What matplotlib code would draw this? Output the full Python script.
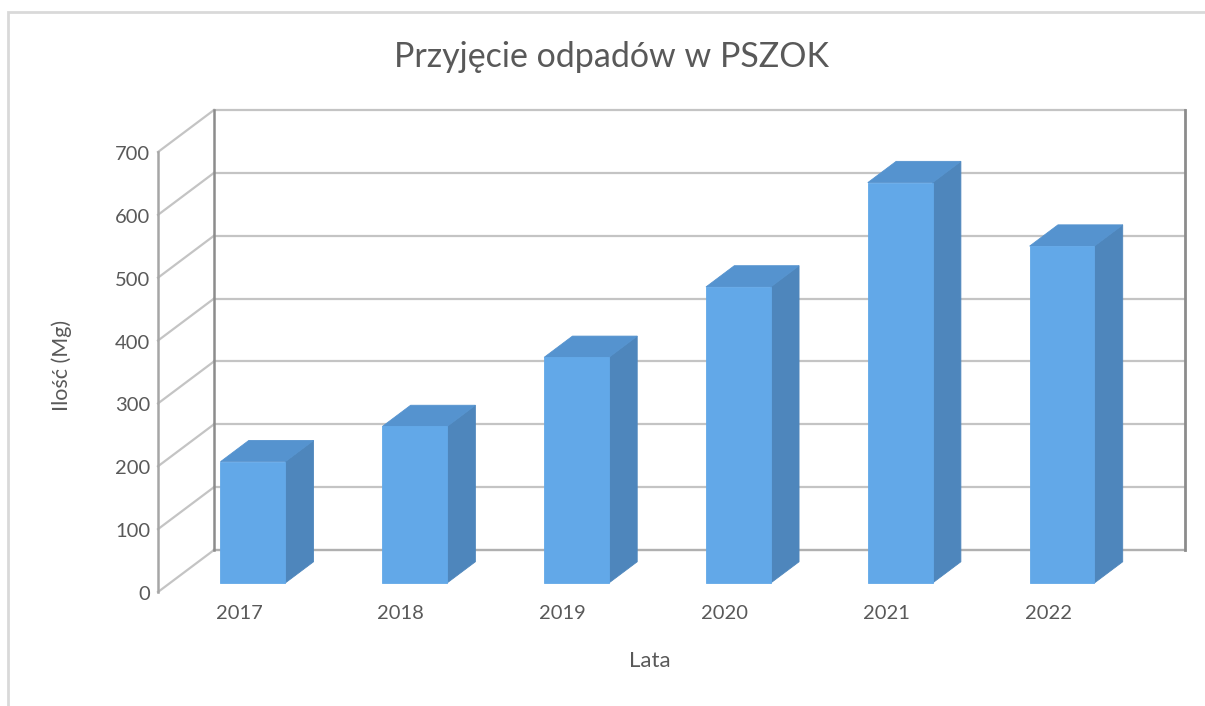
import matplotlib
matplotlib.use("Agg")
import matplotlib.pyplot as plt
from matplotlib.patches import Polygon, Rectangle
from matplotlib.transforms import IdentityTransform

YEARS = ["2017", "2018", "2019", "2020", "2021", "2022"]
AMOUNTS = [193, 249, 359, 471, 637, 536]
Y_TICKS = [0, 100, 200, 300, 400, 500, 600, 700]

TITLE = "Przyjęcie odpadów w PSZOK"
X_LABEL = "Lata"
Y_LABEL = "Ilość (Mg)"

W, H, DPI = 1205, 706, 100
DEPTH = (56, 42)           # oblique shift (px) from back wall to front plane
BAR_FRONT, BAR_BACK = 0.786, 0.28
BAR_WIDTH = 0.40
BAR_NUDGE = 0.012          # small rightward nudge of bars (category units)

C_FRONT = "#62a8e8"
C_TOP = "#5593cf"
C_SIDE = "#4e86bc"
C_GRID = "#c4c4c4"
C_AXIS = "#8c8c8c"
C_TEXT = "#595959"

plt.rcParams["font.family"] = ["Lato", "DejaVu Sans"]

fig = plt.figure(figsize=(W / DPI, H / DPI), dpi=DPI)
ax = fig.add_axes([214 / W, 1 - 550 / H, (1185 - 214) / W, (550 - 110) / H])
ax.set_xlim(-0.5, len(YEARS) - 0.5)
ax.set_ylim(Y_TICKS[0], Y_TICKS[-1])
ax.axis("off")
px = IdentityTransform()


def proj(x, y, f):
    """Data point on the back wall pushed forward by depth fraction f."""
    dx, dy = ax.transData.transform((x, y))
    return (dx - DEPTH[0] * f, dy - DEPTH[1] * f)


def seg(p, q, **kw):
    ax.plot([p[0], q[0]], [p[1], q[1]], transform=px, clip_on=False, **kw)


x_lo, x_hi = -0.5, len(YEARS) - 0.5
top = Y_TICKS[-1]

# ── back wall + left wall ─────────────────────────────────────────────────
for t in Y_TICKS:
    seg(proj(x_lo, t, 0), proj(x_hi, t, 0), color=C_GRID, lw=1.6, zorder=1)
    seg(proj(x_lo, t, 1), proj(x_lo, t, 0), color=C_GRID, lw=1.6, zorder=1)
seg(proj(x_lo, 0, 0), proj(x_hi, 0, 0), color="#b0b0b0", lw=1.6, zorder=2)
seg(proj(x_lo, 0, 0), proj(x_lo, top, 0), color=C_AXIS, lw=1.8, zorder=2)
seg(proj(x_hi, 0, 0), proj(x_hi, top, 0), color=C_AXIS, lw=2.0, zorder=2)
seg(proj(x_lo, 0, 1), proj(x_lo, top, 1), color="#a6a6a6", lw=1.8, zorder=2)

# ── bars ──────────────────────────────────────────────────────────────────
for i, v in enumerate(AMOUNTS):
    x0 = i + BAR_NUDGE - BAR_WIDTH / 2
    x1 = i + BAR_NUDGE + BAR_WIDTH / 2
    side = [proj(x1, 0, BAR_FRONT), proj(x1, 0, BAR_BACK),
            proj(x1, v, BAR_BACK), proj(x1, v, BAR_FRONT)]
    lid = [proj(x0, v, BAR_FRONT), proj(x1, v, BAR_FRONT),
           proj(x1, v, BAR_BACK), proj(x0, v, BAR_BACK)]
    front = [proj(x0, 0, BAR_FRONT), proj(x1, 0, BAR_FRONT),
             proj(x1, v, BAR_FRONT), proj(x0, v, BAR_FRONT)]
    for poly, col in [(side, C_SIDE), (lid, C_TOP), (front, C_FRONT)]:
        ax.add_patch(Polygon(poly, closed=True, facecolor=col, edgecolor=col,
                             lw=0.6, transform=px, clip_on=False, zorder=5))

# ── tick labels on the front plane ────────────────────────────────────────
for t in Y_TICKS:
    x, y = proj(x_lo, t, 1)
    ax.text(x - 8, y - 8, str(t), transform=px, ha="right", va="baseline",
            fontsize=14.5, color=C_TEXT)
for i, yr in enumerate(YEARS):
    x, y = proj(i, 0, 1)
    ax.text(x, y - 27, yr, transform=px, ha="center", va="baseline",
            fontsize=14.5, color=C_TEXT)

fig.text(612 / W, 1 - 67 / H, TITLE, ha="center", va="baseline",
         fontsize=24.5, color=C_TEXT)
fig.text(650 / W, 1 - 667 / H, X_LABEL, ha="center", va="baseline",
         fontsize=16, color=C_TEXT)
fig.text(62 / W, 1 - 365 / H, Y_LABEL, ha="center", va="center",
         rotation=90, fontsize=15.5, color=C_TEXT)

# light chart-area border (right/bottom fall outside the image)
fig.patches.append(Rectangle((8 / W, -0.05), 1.1, 1 - 12 / H + 0.05,
                             transform=fig.transFigure, fill=False,
                             edgecolor="#d9d9d9", lw=2))

fig.savefig("out.png", dpi=DPI)
